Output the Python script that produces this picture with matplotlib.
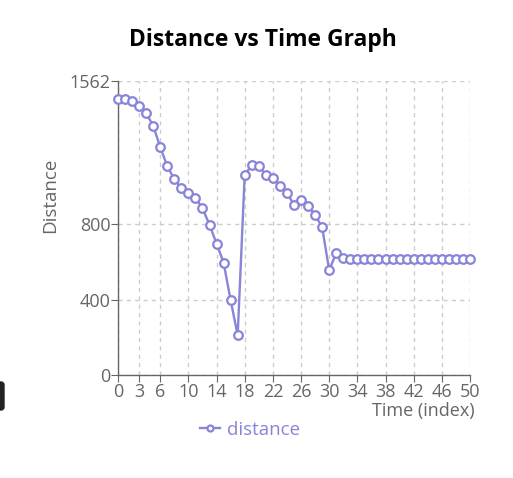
import matplotlib.pyplot as plt
from matplotlib.patches import FancyBboxPatch

# distance readings per time index
time_index = list(range(51))
distance = [1466, 1466, 1455, 1430, 1391, 1324, 1210, 1110, 1039, 993,
            967, 942, 885, 798, 698, 597, 397, 211, 1065, 1114,
            1110, 1063, 1046, 1004, 967, 904, 929, 897, 851, 784,
            556, 649, 622, 617, 616, 616, 615, 615, 615, 614,
            614, 614, 614, 614, 615, 615, 616, 616, 617, 617, 617]
x_ticks = [0, 3, 6, 10, 14, 18, 22, 26, 30, 34, 38, 42, 46, 50]
y_ticks = [0, 400, 800, 1562]

line_color = '#8884d8'
axis_color = '#666666'

plt.rcParams['font.family'] = ['Open Sans', 'DejaVu Sans']

fig = plt.figure(figsize=(5.13, 4.78), dpi=100)
ax = fig.add_axes([118 / 513, 103 / 478, 352 / 513, 294 / 478])

ax.plot(time_index, distance, color=line_color, linewidth=1.7,
        marker='o', markersize=6.2, markerfacecolor='white',
        markeredgecolor=line_color, markeredgewidth=1.6,
        label='distance', clip_on=False, zorder=3)

ax.set_xlim(0, 50)
ax.set_ylim(0, 1562)
ax.set_xticks(x_ticks)
ax.set_yticks(y_ticks)
ax.grid(True, color='#cccccc', linestyle=(0, (3, 3)), linewidth=1)

for side in ['top', 'right']:
    ax.spines[side].set_visible(False)
for side in ['left', 'bottom']:
    ax.spines[side].set_color(axis_color)
    ax.spines[side].set_linewidth(1)
ax.tick_params(colors=axis_color, labelsize=13, length=5, pad=0.5)

ax.set_ylabel('Distance', color=axis_color, fontsize=13.5, va='center')
ax.yaxis.set_label_coords(-0.193, 0.612)
ax.text(1.012, -0.124, 'Time (index)', transform=ax.transAxes,
        ha='right', va='center', color=axis_color, fontsize=13)

fig.text(263 / 513, 1 - 40 / 478, 'Distance vs Time Graph', ha='center',
         va='center', fontsize=16.5, fontweight='bold', color='black')

leg = fig.legend(loc='center', bbox_to_anchor=(250 / 513, 1 - 430 / 478),
                 frameon=False, fontsize=13.5, handlelength=1.1,
                 handletextpad=0.35, markerscale=0.7)
for t in leg.get_texts():
    t.set_color(line_color)

# small dark tab on the left edge of the card
fig.patches.append(FancyBboxPatch((-6 / 513, 1 - 410 / 478), 10 / 513, 28 / 478,
                                  boxstyle='round,pad=0,rounding_size=0.006',
                                  transform=fig.transFigure, color='#222222'))

fig.savefig('out.png', dpi=100)
